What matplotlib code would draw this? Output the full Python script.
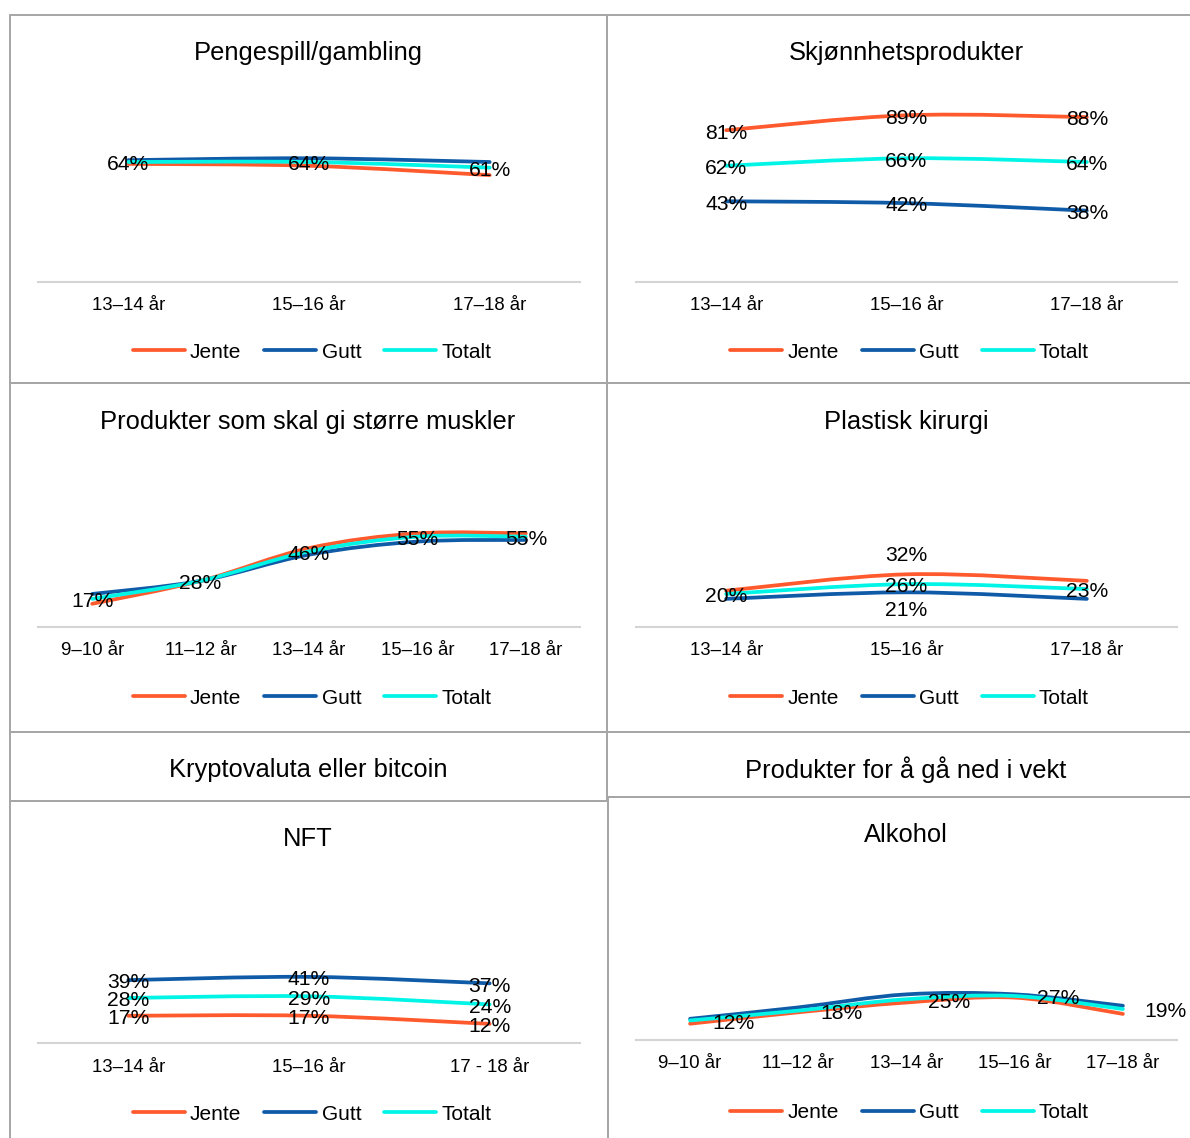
import numpy as np
import matplotlib
matplotlib.use("Agg")
import matplotlib.pyplot as plt
from matplotlib.path import Path
from matplotlib.patches import PathPatch, Rectangle
from matplotlib.lines import Line2D

plt.rcParams['font.family'] = ['Liberation Sans', 'DejaVu Sans']

W, H = 1190, 1138

# =================================
# Data (andel i prosent)
# =================================
ages_3 = ["13–14 år", "15–16 år", "17–18 år"]
ages_3_nft = ["13–14 år", "15–16 år", "17 - 18 år"]
ages_5 = ["9–10 år", "11–12 år", "13–14 år", "15–16 år", "17–18 år"]

gambling_jente = [63, 62, 57]
gambling_gutt = [65, 66, 64]
gambling_totalt = [64, 64, 61]

skjonnhet_jente = [81, 89, 88]
skjonnhet_gutt = [43, 42, 38]
skjonnhet_totalt = [62, 66, 64]

muskler_jente = [14, 28, 48, 57, 57]
muskler_gutt = [20, 28, 44, 52, 53]
muskler_totalt = [17, 28, 46, 55, 55]

kirurgi_jente = [22, 32, 28]
kirurgi_gutt = [17, 21, 17]
kirurgi_totalt = [20, 26, 23]

nft_jente = [17, 17, 12]
nft_gutt = [39, 41, 37]
nft_totalt = [28, 29, 24]

alkohol_jente = [10, 17, 23, 26, 16]
alkohol_gutt = [13, 20, 28, 28, 21]
alkohol_totalt = [12, 18, 25, 27, 19]

names = ["Jente", "Gutt", "Totalt"]
colors = ["#FF5A2D", "#0F5BA7", "#00F5E6"]
BORDER = "#A6A6A6"


# =================================
# Helpers
# =================================
def smooth_path(y):
    # Excel-style smoothed line: cubic bezier through each point
    pts = np.column_stack([np.arange(len(y)), np.asarray(y, float)])
    ext = np.vstack([pts[0], pts, pts[-1]])
    verts, codes = [pts[0]], [Path.MOVETO]
    for i in range(len(pts) - 1):
        p0, p1, p2, p3 = ext[i], ext[i + 1], ext[i + 2], ext[i + 3]
        verts += [p1 + (p2 - p0) / 6, p2 - (p3 - p1) / 6, p2]
        codes += [Path.CURVE4] * 3
    return Path(verts, codes)


def box(fig, x0, y0, x1, y1):
    fig.add_artist(Rectangle((x0 / W, 1 - y1 / H), (x1 - x0) / W, (y1 - y0) / H,
                             transform=fig.transFigure, fill=False,
                             ec=BORDER, lw=1.4))


def title(fig, x, y, text):
    fig.text(x / W, 1 - y / H, text, ha="center", va="center", fontsize=18.4)


# offsets (points) for label positions
OFFSETS = {"center": (0, -2), "above": (0, 13.5), "below": (0, -13), "right": (31, -2)}


def panel(fig, x0, x1, base, top, cats, series, labels, legend_y):
    ax = fig.add_axes([x0 / W, 1 - base / H, (x1 - x0) / W, (base - top) / H])
    n = len(cats)
    ax.set_xlim(-0.5, n - 0.5)
    ax.set_ylim(0, 100)
    ax.patch.set_visible(False)
    for s in ["top", "left", "right"]:
        ax.spines[s].set_visible(False)
    ax.spines["bottom"].set_color("#D4D4D4")
    ax.spines["bottom"].set_linewidth(1.5)
    ax.set_yticks([])
    ax.set_xticks(range(n))
    ax.set_xticklabels(cats)
    ax.tick_params(axis="x", length=0, pad=11, labelsize=13.4)

    for vals, c in zip(series, colors):
        ax.add_patch(PathPatch(smooth_path(vals), fill=False, ec=c, lw=2.7,
                               capstyle="round", clip_on=False))

    for idx, pos, pts in labels:
        vals = series[idx]
        for i in pts:
            ax.annotate(f"{vals[i]}%", (i, vals[i]), xytext=OFFSETS[pos],
                        textcoords="offset points", ha="center", va="center",
                        fontsize=15.2)

    handles = [Line2D([], [], color=c, lw=2.7, solid_capstyle="round") for c in colors]
    ax.legend(handles, names, loc="center",
              bbox_to_anchor=((x0 + x1) / 2 / W + 3 / W, 1 - legend_y / H),
              bbox_transform=fig.transFigure, ncol=3, frameon=False,
              fontsize=15, handlelength=2.5, handletextpad=0.25, columnspacing=1.1)
    return ax


# =================================
# Figure
# =================================
fig = plt.figure(figsize=(W / 100, H / 100), dpi=100)

# panel frames
box(fig, 10, 15, 607, 383)
box(fig, 607, 15, 1200, 383)
box(fig, 10, 383, 607, 732)
box(fig, 607, 383, 1200, 732)
box(fig, 10, 732, 607, 801)
box(fig, 607, 732, 1200, 797)
box(fig, 10, 801, 608, 1150)
box(fig, 608, 797, 1200, 1150)

# top row
title(fig, 308, 53, "Pengespill/gambling")
panel(fig, 38, 580, 281.7, 94.7, ages_3,
      [gambling_jente, gambling_gutt, gambling_totalt],
      [(2, "center", [0, 1, 2])], 352)

title(fig, 906, 53, "Skjønnhetsprodukter")
panel(fig, 636, 1177, 281.7, 94.7, ages_3,
      [skjonnhet_jente, skjonnhet_gutt, skjonnhet_totalt],
      [(0, "center", [0, 1, 2]), (1, "center", [0, 1, 2]), (2, "center", [0, 1, 2])], 352)

# middle row
title(fig, 308, 422, "Produkter som skal gi større muskler")
panel(fig, 38, 580, 626.7, 463, ages_5,
      [muskler_jente, muskler_gutt, muskler_totalt],
      [(2, "center", [0, 1, 2, 3, 4])], 698)

title(fig, 906, 422, "Plastisk kirurgi")
panel(fig, 636, 1177, 626.7, 463, ages_3,
      [kirurgi_jente, kirurgi_gutt, kirurgi_totalt],
      [(2, "center", [0, 1, 2]), (0, "above", [1]), (1, "below", [1])], 698)

# bottom row
title(fig, 308, 770, "Kryptovaluta eller bitcoin")
title(fig, 906, 770, "Produkter for å gå ned i vekt")

title(fig, 308, 839, "NFT")
panel(fig, 38, 580, 1043.3, 881.3, ages_3_nft,
      [nft_jente, nft_gutt, nft_totalt],
      [(0, "center", [0, 1, 2]), (1, "center", [0, 1, 2]), (2, "center", [0, 1, 2])], 1114)

title(fig, 906, 835, "Alkohol")
panel(fig, 636, 1177, 1040, 877, ages_5,
      [alkohol_jente, alkohol_gutt, alkohol_totalt],
      [(2, "right", [0, 1, 2, 3, 4])], 1113)

fig.savefig("out.png", dpi=100)
